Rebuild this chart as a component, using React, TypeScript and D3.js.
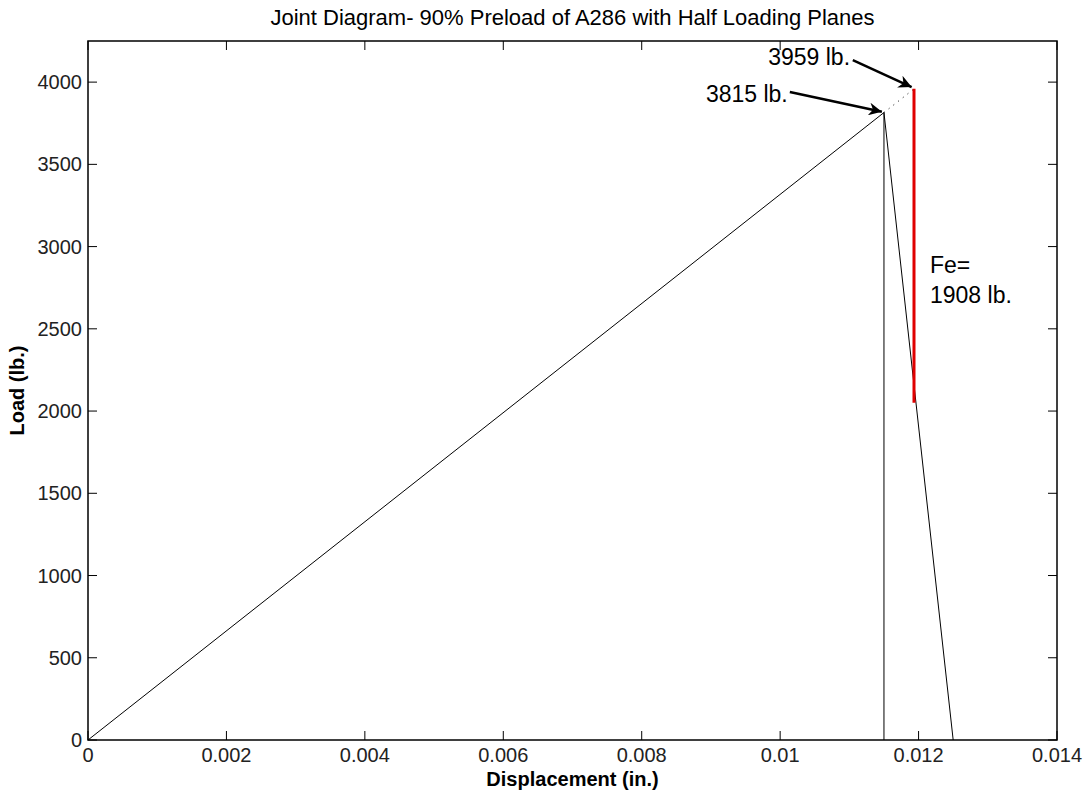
import { useEffect, useRef } from 'react';
import * as d3 from 'd3';

const xTicks = [0, 0.002, 0.004, 0.006, 0.008, 0.01, 0.012, 0.014];
const xTickLabels = ['0', '0.002', '0.004', '0.006', '0.008', '0.01', '0.012', '0.014'];
const yTicks = [0, 500, 1000, 1500, 2000, 2500, 3000, 3500, 4000];

// bolt line (with vertical drop), joint line, dotted extension, external load
const boltLine = [
  { x: 0, y: 0 },
  { x: 0.0115, y: 3815 },
  { x: 0.0115, y: 0 },
];
const jointLine = [
  { x: 0.0115, y: 3815 },
  { x: 0.0125, y: 0 },
];
const extension = [
  { x: 0.0115, y: 3815 },
  { x: 0.011934, y: 3959 },
];
const feLine = [
  { x: 0.011934, y: 3959 },
  { x: 0.011934, y: 2051 },
];

const arrows = [
  { label: '3959 lb.', tail: { x: 0.01105, y: 4134 }, head: { x: 0.0119, y: 3970 }, text: { x: 0.01101, y: 4104 } },
  { label: '3815 lb.', tail: { x: 0.01014, y: 3940 }, head: { x: 0.01147, y: 3820 }, text: { x: 0.01011, y: 3879 } },
];
const feLabel = ['Fe=', '1908 lb.'];

const App = () => {
  const ref = useRef(null);
  const size = { width: 1087, height: 793 };
  const margin = { left: 88, right: 30, top: 41, bottom: 53 };

  useEffect(() => {
    if (!ref.current) return;
    const svg = d3.select(ref.current);
    svg.selectAll('*').remove();
    const font = 'Liberation Sans, Arial, sans-serif';
    const x = d3.scaleLinear().domain([0, 0.014]).range([margin.left, size.width - margin.right]);
    const y = d3.scaleLinear().domain([0, 4250]).range([size.height - margin.bottom, margin.top]);
    const [x0, x1] = x.range();
    const [y0, y1] = y.range();

    svg.append('rect').attr('width', size.width).attr('height', size.height).attr('fill', '#fff');

    svg
      .append('defs')
      .append('marker')
      .attr('id', 'arrowhead')
      .attr('viewBox', '0 0 10 10')
      .attr('refX', 10)
      .attr('refY', 5)
      .attr('markerWidth', 17)
      .attr('markerHeight', 13)
      .attr('markerUnits', 'userSpaceOnUse')
      .attr('orient', 'auto')
      .append('path')
      .attr('d', 'M0,0 L10,5 L0,10 L3,5 Z')
      .attr('fill', '#000');

    // ticks (inside, on all four sides)
    const tl = 9;
    const g = svg.append('g').attr('stroke', '#000').attr('stroke-width', 1);
    xTicks.forEach((t) => {
      g.append('line').attr('x1', x(t)).attr('x2', x(t)).attr('y1', y0).attr('y2', y0 - tl);
      g.append('line').attr('x1', x(t)).attr('x2', x(t)).attr('y1', y1).attr('y2', y1 + tl);
    });
    yTicks.forEach((t) => {
      g.append('line').attr('x1', x0).attr('x2', x0 + tl).attr('y1', y(t)).attr('y2', y(t));
      g.append('line').attr('x1', x1).attr('x2', x1 - tl).attr('y1', y(t)).attr('y2', y(t));
    });

    const line = d3
      .line<{ x: number; y: number }>()
      .x((d) => x(d.x))
      .y((d) => y(d.y));

    svg.append('path').attr('d', line(boltLine)).attr('fill', 'none').attr('stroke', '#000').attr('stroke-width', 1);
    svg.append('path').attr('d', line(jointLine)).attr('fill', 'none').attr('stroke', '#000').attr('stroke-width', 1);
    svg
      .append('path')
      .attr('d', line(extension))
      .attr('fill', 'none')
      .attr('stroke', '#000')
      .attr('stroke-width', 1)
      .attr('stroke-dasharray', '1,5');
    svg.append('path').attr('d', line(feLine)).attr('fill', 'none').attr('stroke', '#e00000').attr('stroke-width', 3);

    // box
    svg
      .append('rect')
      .attr('x', x0)
      .attr('y', y1)
      .attr('width', x1 - x0)
      .attr('height', y0 - y1)
      .attr('fill', 'none')
      .attr('stroke', '#000')
      .attr('stroke-width', 1.5);

    // tick labels
    xTicks.forEach((t, i) => {
      svg
        .append('text')
        .attr('x', x(t))
        .attr('y', y0 + 22)
        .attr('text-anchor', 'middle')
        .style('font-family', font)
        .style('font-size', '20px')
        .attr('fill', '#222')
        .text(xTickLabels[i]);
    });
    yTicks.forEach((t) => {
      svg
        .append('text')
        .attr('x', x0 - 6)
        .attr('y', y(t) + 7)
        .attr('text-anchor', 'end')
        .style('font-family', font)
        .style('font-size', '20px')
        .attr('fill', '#222')
        .text(t);
    });

    // annotations
    arrows.forEach((a) => {
      svg
        .append('line')
        .attr('x1', x(a.tail.x))
        .attr('y1', y(a.tail.y))
        .attr('x2', x(a.head.x))
        .attr('y2', y(a.head.y))
        .attr('stroke', '#000')
        .attr('stroke-width', 2.5)
        .attr('marker-end', 'url(#arrowhead)');
      svg
        .append('text')
        .attr('x', x(a.text.x))
        .attr('y', y(a.text.y))
        .attr('text-anchor', 'end')
        .style('font-family', font)
        .style('font-size', '23px')
        .attr('fill', '#000')
        .text(a.label);
    });
    feLabel.forEach((s, i) => {
      svg
        .append('text')
        .attr('x', x(0.012165))
        .attr('y', y(2839) + i * 30)
        .style('font-family', font)
        .style('font-size', '23px')
        .attr('fill', '#000')
        .text(s);
    });

    // titles
    svg
      .append('text')
      .attr('x', (x0 + x1) / 2)
      .attr('y', 25)
      .attr('text-anchor', 'middle')
      .style('font-family', font)
      .style('font-size', '22px')
      .text('Joint Diagram- 90% Preload of A286 with Half Loading Planes');
    svg
      .append('text')
      .attr('x', (x0 + x1) / 2)
      .attr('y', 786)
      .attr('text-anchor', 'middle')
      .style('font-family', font)
      .style('font-size', '20px')
      .style('font-weight', 'bold')
      .text('Displacement (in.)');
    svg
      .append('text')
      .attr('transform', `translate(24, ${(y0 + y1) / 2}) rotate(-90)`)
      .attr('text-anchor', 'middle')
      .style('font-family', font)
      .style('font-size', '20px')
      .style('font-weight', 'bold')
      .text('Load (lb.)');
  }, []);

  return (
    <div>
      <svg
        ref={ref}
        width={size.width}
        height={size.height}
        style={{ position: 'absolute', left: 0, top: 0 }}
      />
    </div>
  );
};

export default App;
